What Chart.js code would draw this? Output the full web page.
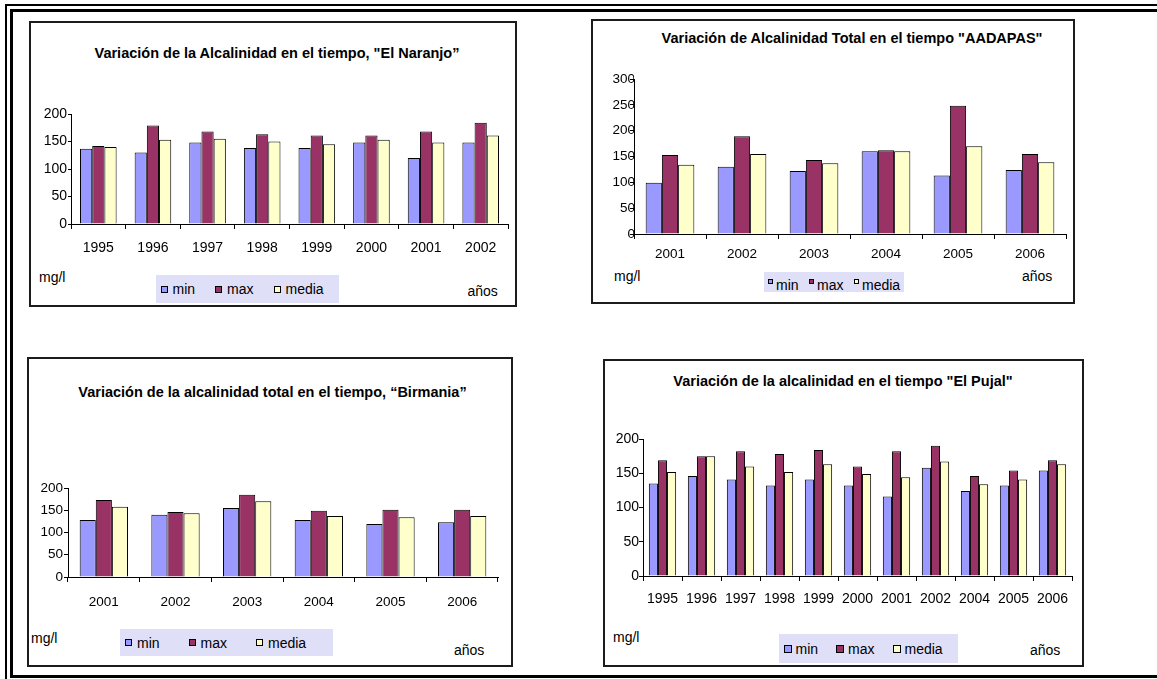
<!DOCTYPE html>
<html>
<head>
<meta charset="utf-8">
<title>Variación de la alcalinidad</title>
<script src="https://cdn.jsdelivr.net/npm/chart.js@4.4.1/dist/chart.umd.min.js"></script>
<style>
body { margin: 0; background: #fff; font-family: "Liberation Sans", Arial, sans-serif; color: #000; }
#page { position: relative; width: 1157px; height: 679px; overflow: hidden; background: #fff; }
.line { position: absolute; background: #000; }
.box { position: absolute; border: 2px solid #1c1c1c; box-sizing: border-box; }
.title { position: absolute; font-weight: bold; font-size: 14.5px; line-height: 18px; white-space: nowrap; transform: translateX(-50%); }
.lbl { position: absolute; font-size: 14px; line-height: 16px; white-space: nowrap; }
.legend { position: absolute; background: #dfdff8; display: flex; align-items: center; box-sizing: border-box; font-size: 14px; line-height: 16px; }
.item { display: flex; align-items: center; position: relative; white-space: nowrap; }
.sw { display: inline-block; border: 1px solid #000; box-sizing: border-box; position: relative; }
canvas { position: absolute; }
</style>
</head>
<body>
<div id="page">
  <!-- double frame around the page -->
  <div class="line" style="left:5px;top:4px;width:1152px;height:2px"></div>
  <div class="line" style="left:5px;top:4px;width:2px;height:675px"></div>
  <div class="line" style="left:10px;top:9px;width:1147px;height:3px"></div>
  <div class="line" style="left:10px;top:9px;width:3px;height:669px"></div>
  <div class="line" style="left:10px;top:675px;width:1147px;height:3px"></div>
</div>
<script>
const seriesNames = ['min', 'max', 'media'];
const seriesColors = ['#9999ff', '#993366', '#ffffcc'];

// El Naranjo
const naranjoYears = ['1995', '1996', '1997', '1998', '1999', '2000', '2001', '2002'];
const naranjoMin = [137, 130, 148, 138, 138, 148, 120, 148];
const naranjoMax = [142, 179, 168, 163, 161, 161, 168, 184];
const naranjoMedia = [140, 153, 155, 150, 145, 153, 148, 161];
const naranjoTicks = [0, 50, 100, 150, 200];

// AADAPAS
const aadapasYears = ['2001', '2002', '2003', '2004', '2005', '2006'];
const aadapasMin = [99, 130, 122, 160, 113, 124];
const aadapasMax = [153, 189, 143, 162, 248, 155];
const aadapasMedia = [134, 155, 137, 160, 170, 139];
const aadapasTicks = [0, 50, 100, 150, 200, 250, 300];

// Birmania
const birmaniaYears = ['2001', '2002', '2003', '2004', '2005', '2006'];
const birmaniaMin = [128, 140, 155, 128, 119, 123];
const birmaniaMax = [173, 146, 185, 149, 151, 151];
const birmaniaMedia = [158, 143, 170, 137, 134, 137];
const birmaniaTicks = [0, 50, 100, 150, 200];

// El Pujal
const pujalYears = ['1995', '1996', '1997', '1998', '1999', '2000', '2001', '2002', '2004', '2005', '2006'];
const pujalMin = [135, 146, 141, 132, 141, 132, 116, 158, 124, 132, 154];
const pujalMax = [169, 175, 182, 178, 184, 160, 182, 190, 146, 154, 169];
const pujalMedia = [152, 175, 160, 152, 163, 149, 144, 167, 134, 141, 163];
const pujalTicks = [0, 50, 100, 150, 200];

const FONT = '"Liberation Sans", Arial, sans-serif';
const page = document.getElementById('page');

function el(cls, css, text) {
    const d = document.createElement('div');
    d.className = cls;
    Object.assign(d.style, css);
    if (text) d.textContent = text;
    page.appendChild(d);
    return d;
}

function buildLegend(lg) {
    const box = el('legend', {
        left: lg.x + 'px', top: lg.y + 'px', width: lg.w + 'px', height: lg.h + 'px',
        paddingLeft: lg.pad + 'px'
    });
    seriesNames.forEach((name, i) => {
        const item = document.createElement('span');
        item.className = 'item';
        item.style.top = (lg.textOff || 0) + 'px';
        if (i < seriesNames.length - 1) item.style.marginRight = lg.itemGap + 'px';
        const sw = document.createElement('span');
        sw.className = 'sw';
        sw.style.width = lg.sw + 'px';
        sw.style.height = lg.sw + 'px';
        sw.style.background = seriesColors[i];
        sw.style.marginRight = lg.swGap + 'px';
        sw.style.top = (lg.swOff || 0) + 'px';
        item.appendChild(sw);
        item.appendChild(document.createTextNode(name));
        box.appendChild(item);
    });
}

function addPanel(p) {
    const [bl, bt, br, bb] = p.box;
    el('box', { left: bl + 'px', top: bt + 'px', width: (br - bl) + 'px', height: (bb - bt) + 'px' });
    el('title', { left: p.titleAt[0] + 'px', top: (p.titleAt[1] - 9) + 'px' }, p.title);
    el('lbl', { left: p.mgAt[0] + 'px', top: (p.mgAt[1] - 8) + 'px' }, 'mg/l');
    el('lbl', { left: p.anosAt[0] + 'px', top: (p.anosAt[1] - 8) + 'px' }, 'años');
    buildLegend(p.legend);

    // canvas sized so the plot area lands on p.plot
    const a = p.plot;
    const yw = 44;
    const padTop = 10, padRight = 6;
    const cl = a.left - yw, ct = a.top - padTop;
    const cw = a.right + padRight - cl, ch = a.labelY + 12 - ct;
    const xh = ch - (a.bottom - ct);
    const canvas = document.createElement('canvas');
    canvas.width = cw;
    canvas.height = ch;
    canvas.style.left = cl + 'px';
    canvas.style.top = ct + 'px';
    canvas.style.width = cw + 'px';
    canvas.style.height = ch + 'px';
    page.appendChild(canvas);

    const lineH = p.fontSize * 1.2;
    const xPad = a.labelY - a.bottom - 5 - lineH / 2;

    new Chart(canvas.getContext('2d'), {
        type: 'bar',
        data: {
            labels: p.labels,
            datasets: p.values.map((vals, i) => ({
                label: seriesNames[i],
                data: vals,
                backgroundColor: seriesColors[i],
                borderColor: '#000',
                borderWidth: 1,
                barPercentage: 1,
                categoryPercentage: p.catPct
            }))
        },
        options: {
            responsive: false,
            animation: false,
            events: [],
            layout: { padding: { top: padTop, right: padRight, bottom: 0, left: 0 } },
            plugins: {
                legend: { display: false },
                title: { display: false },
                tooltip: { enabled: false }
            },
            scales: {
                x: {
                    grid: { display: true, drawOnChartArea: false, offset: true, tickLength: 5, color: '#000', lineWidth: 1 },
                    border: { display: true, color: '#000', width: 1 },
                    ticks: {
                        color: '#000', font: { family: FONT, size: p.fontSize },
                        padding: xPad, maxRotation: 0, autoSkip: false
                    },
                    afterFit: s => { s.height = xh; }
                },
                y: {
                    min: p.ticks[0],
                    max: p.ticks[p.ticks.length - 1],
                    grid: { display: true, drawOnChartArea: false, tickLength: p.yTick, color: '#000' },
                    border: { display: true, color: '#000', width: 1 },
                    ticks: { color: '#000', font: { family: FONT, size: p.fontSize }, padding: p.yPad },
                    afterBuildTicks: s => { s.ticks = p.ticks.map(v => ({ value: v })); },
                    afterFit: s => { s.width = yw; }
                }
            }
        }
    });
}

addPanel({
    title: 'Variación de la Alcalinidad en el tiempo, "El Naranjo”',
    box: [29, 21, 517, 307],
    titleAt: [277, 53],
    plot: { left: 71, right: 508, top: 114, bottom: 224, labelY: 248 },
    labels: naranjoYears,
    values: [naranjoMin, naranjoMax, naranjoMedia],
    ticks: naranjoTicks,
    fontSize: 14, yTick: 3, yPad: 1, catPct: 0.67,
    legend: { x: 156, y: 275, w: 183, h: 28, pad: 4.5, sw: 7, swGap: 5, itemGap: 20 },
    mgAt: [39, 277],
    anosAt: [467.5, 291]
});

addPanel({
    title: 'Variación de Alcalinidad Total en el tiempo "AADAPAS"',
    box: [591, 19, 1075, 304],
    titleAt: [852, 38],
    plot: { left: 634, right: 1066, top: 79, bottom: 234, labelY: 254 },
    labels: aadapasYears,
    values: [aadapasMin, aadapasMax, aadapasMedia],
    ticks: aadapasTicks,
    fontSize: 13.5, yTick: 4, yPad: -5, catPct: 0.676,
    legend: { x: 764, y: 272, w: 140, h: 20, pad: 3.5, sw: 5, swGap: 3.5, itemGap: 10, textOff: 3, swOff: -4 },
    mgAt: [614, 276],
    anosAt: [1022, 276]
});

addPanel({
    title: 'Variación de la alcalinidad total en el tiempo, “Birmania”',
    box: [27, 357, 513, 667],
    titleAt: [272.5, 392],
    plot: { left: 68, right: 498, top: 488, bottom: 577, labelY: 602 },
    labels: birmaniaYears,
    values: [birmaniaMin, birmaniaMax, birmaniaMedia],
    ticks: birmaniaTicks,
    fontSize: 13.5, yTick: 4, yPad: 1, catPct: 0.674,
    legend: { x: 120, y: 629, w: 213, h: 27, pad: 5, sw: 7, swGap: 5, itemGap: 29 },
    mgAt: [31, 638],
    anosAt: [454, 650]
});

addPanel({
    title: 'Variación de la alcalinidad en el tiempo "El Pujal"',
    box: [603, 359, 1084, 667],
    titleAt: [843, 381],
    plot: { left: 643, right: 1072, top: 439, bottom: 576, labelY: 599 },
    labels: pujalYears,
    values: [pujalMin, pujalMax, pujalMedia],
    ticks: pujalTicks,
    fontSize: 14, yTick: 4, yPad: 0, catPct: 0.70,
    legend: { x: 779, y: 634, w: 179, h: 29, pad: 4.5, sw: 8, swGap: 4, itemGap: 18 },
    mgAt: [613, 637],
    anosAt: [1030, 650]
});
</script>
</body>
</html>
